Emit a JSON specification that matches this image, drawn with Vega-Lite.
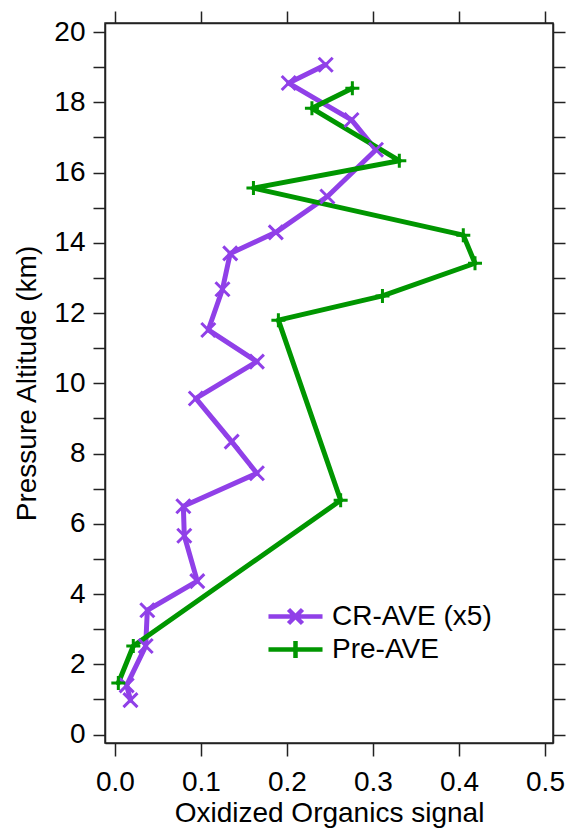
{
  "$schema": "https://vega.github.io/schema/vega-lite/v6.json",
  "width": 448,
  "height": 720,
  "autosize": {"type": "none"},
  "padding": {"left": 105, "top": 23, "right": 13, "bottom": 85},
  "background": "white",
  "config": {
    "view": {"stroke": "#222222", "strokeWidth": 1.5},
    "axis": {
      "labelFont": "Liberation Sans",
      "titleFont": "Liberation Sans",
      "labelFontSize": 28,
      "titleFontSize": 28,
      "titleFontWeight": "normal",
      "labelColor": "black",
      "titleColor": "black",
      "tickColor": "#222222",
      "domainColor": "#222222",
      "tickWidth": 1.5,
      "domainWidth": 1.5,
      "grid": false
    }
  },
  "data": {
    "values": [
      {"series": "CR-AVE (x5)", "signal": 0.245, "alt": 19.07},
      {"series": "CR-AVE (x5)", "signal": 0.202, "alt": 18.55},
      {"series": "CR-AVE (x5)", "signal": 0.275, "alt": 17.5},
      {"series": "CR-AVE (x5)", "signal": 0.3035, "alt": 16.65},
      {"series": "CR-AVE (x5)", "signal": 0.247, "alt": 15.32},
      {"series": "CR-AVE (x5)", "signal": 0.187, "alt": 14.3},
      {"series": "CR-AVE (x5)", "signal": 0.134, "alt": 13.7},
      {"series": "CR-AVE (x5)", "signal": 0.125, "alt": 12.68},
      {"series": "CR-AVE (x5)", "signal": 0.1085, "alt": 11.52},
      {"series": "CR-AVE (x5)", "signal": 0.165, "alt": 10.62},
      {"series": "CR-AVE (x5)", "signal": 0.094, "alt": 9.57},
      {"series": "CR-AVE (x5)", "signal": 0.1357, "alt": 8.34},
      {"series": "CR-AVE (x5)", "signal": 0.165, "alt": 7.44},
      {"series": "CR-AVE (x5)", "signal": 0.0795, "alt": 6.5},
      {"series": "CR-AVE (x5)", "signal": 0.0806, "alt": 5.66},
      {"series": "CR-AVE (x5)", "signal": 0.0957, "alt": 4.37},
      {"series": "CR-AVE (x5)", "signal": 0.0376, "alt": 3.54},
      {"series": "CR-AVE (x5)", "signal": 0.0357, "alt": 2.52},
      {"series": "CR-AVE (x5)", "signal": 0.0136, "alt": 1.4},
      {"series": "CR-AVE (x5)", "signal": 0.018, "alt": 0.98},
      {"series": "Pre-AVE", "signal": 0.276, "alt": 18.4},
      {"series": "Pre-AVE", "signal": 0.229, "alt": 17.83},
      {"series": "Pre-AVE", "signal": 0.3306, "alt": 16.34},
      {"series": "Pre-AVE", "signal": 0.161, "alt": 15.56},
      {"series": "Pre-AVE", "signal": 0.405, "alt": 14.22},
      {"series": "Pre-AVE", "signal": 0.4186, "alt": 13.42},
      {"series": "Pre-AVE", "signal": 0.311, "alt": 12.49},
      {"series": "Pre-AVE", "signal": 0.19, "alt": 11.8},
      {"series": "Pre-AVE", "signal": 0.2624, "alt": 6.67},
      {"series": "Pre-AVE", "signal": 0.0213, "alt": 2.52},
      {"series": "Pre-AVE", "signal": 0.0039, "alt": 1.47}
    ]
  },
  "layer": [
    {
      "mark": {"type": "line", "strokeWidth": 5, "strokeJoin": "round", "strokeCap": "round"},
      "encoding": {
        "x": {
          "field": "signal",
          "type": "quantitative",
          "scale": {"domain": [-0.0116, 0.5093], "nice": false, "zero": false},
          "axis": {
            "orient": "bottom",
            "values": [0, 0.1, 0.2, 0.3, 0.4, 0.5],
            "format": ".1f",
            "tickSize": 13,
            "labelPadding": 12,
            "title": "Oxidized Organics signal",
            "titlePadding": 3
          }
        },
        "y": {
          "field": "alt",
          "type": "quantitative",
          "scale": {"domain": [-0.24, 20.26], "nice": false, "zero": false},
          "axis": {
            "orient": "left",
            "values": [0, 1, 2, 3, 4, 5, 6, 7, 8, 9, 10, 11, 12, 13, 14, 15, 16, 17, 18, 19, 20],
            "format": "d",
            "labelExpr": "datum.value % 2 === 0 ? datum.label : ''",
            "tickSize": 12,
            "labelPadding": 8,
            "title": "Pressure Altitude (km)",
            "titlePadding": 12,
            "encode": {"ticks": {"update": {"x2": {"signal": "datum.value % 2 === 0 ? -12 : -6"}}}}
          }
        },
        "color": {
          "field": "series",
          "type": "nominal",
          "scale": {"domain": ["CR-AVE (x5)", "Pre-AVE"], "range": ["#9040E8", "#009600"]},
          "legend": {
            "orient": "none",
            "legendX": 174,
            "legendY": 577,
            "title": null,
            "padding": 0,
            "labelFont": "Liberation Sans",
            "labelFontSize": 28,
            "labelColor": "black",
            "symbolSize": 784,
            "symbolStrokeWidth": 4.5,
            "symbolFillColor": "transparent",
            "labelOffset": 20,
            "rowPadding": -4,
            "encode": {
              "symbols": {
                "update": {
                  "shape": {"signal": "datum.value === 'CR-AVE (x5)' ? 'M-1.93,0L1.93,0M-0.5,-0.5L0.5,0.5M-0.5,0.5L0.5,-0.5' : 'M-1.93,0L1.93,0M0,-0.6L0,0.6'"},
                  "fill": {"value": "transparent"}
                }
              }
            }
          }
        },
        "order": {"field": "alt", "type": "quantitative"}
      }
    },
    {
      "transform": [{"filter": "datum.series === 'CR-AVE (x5)'"}],
      "mark": {"type": "point", "filled": false, "strokeWidth": 3, "opacity": 1, "color": "#9040E8", "shape": "M-1,-1L1,1M-1,1L1,-1", "size": 196},
      "encoding": {
        "x": {
          "field": "signal",
          "type": "quantitative",
          "axis": {
            "orient": "top",
            "values": [0, 0.1, 0.2, 0.3, 0.4, 0.5],
            "labels": false,
            "tickSize": 12,
            "title": null
          }
        },
        "y": {
          "field": "alt",
          "type": "quantitative",
          "axis": {
            "orient": "right",
            "values": [0, 1, 2, 3, 4, 5, 6, 7, 8, 9, 10, 11, 12, 13, 14, 15, 16, 17, 18, 19, 20],
            "labels": false,
            "tickSize": 12,
            "title": null,
            "encode": {"ticks": {"update": {"x2": {"signal": "datum.value % 2 === 0 ? 12 : 6"}}}}
          }
        }
      }
    },
    {
      "transform": [{"filter": "datum.series === 'Pre-AVE'"}],
      "mark": {"type": "point", "filled": false, "strokeWidth": 3, "opacity": 1, "color": "#009600", "shape": "M0,-1L0,1M-1,0L1,0", "size": 196},
      "encoding": {
        "x": {"field": "signal", "type": "quantitative", "axis": null},
        "y": {"field": "alt", "type": "quantitative", "axis": null}
      }
    }
  ],
  "resolve": {"axis": {"x": "independent", "y": "independent"}}
}
